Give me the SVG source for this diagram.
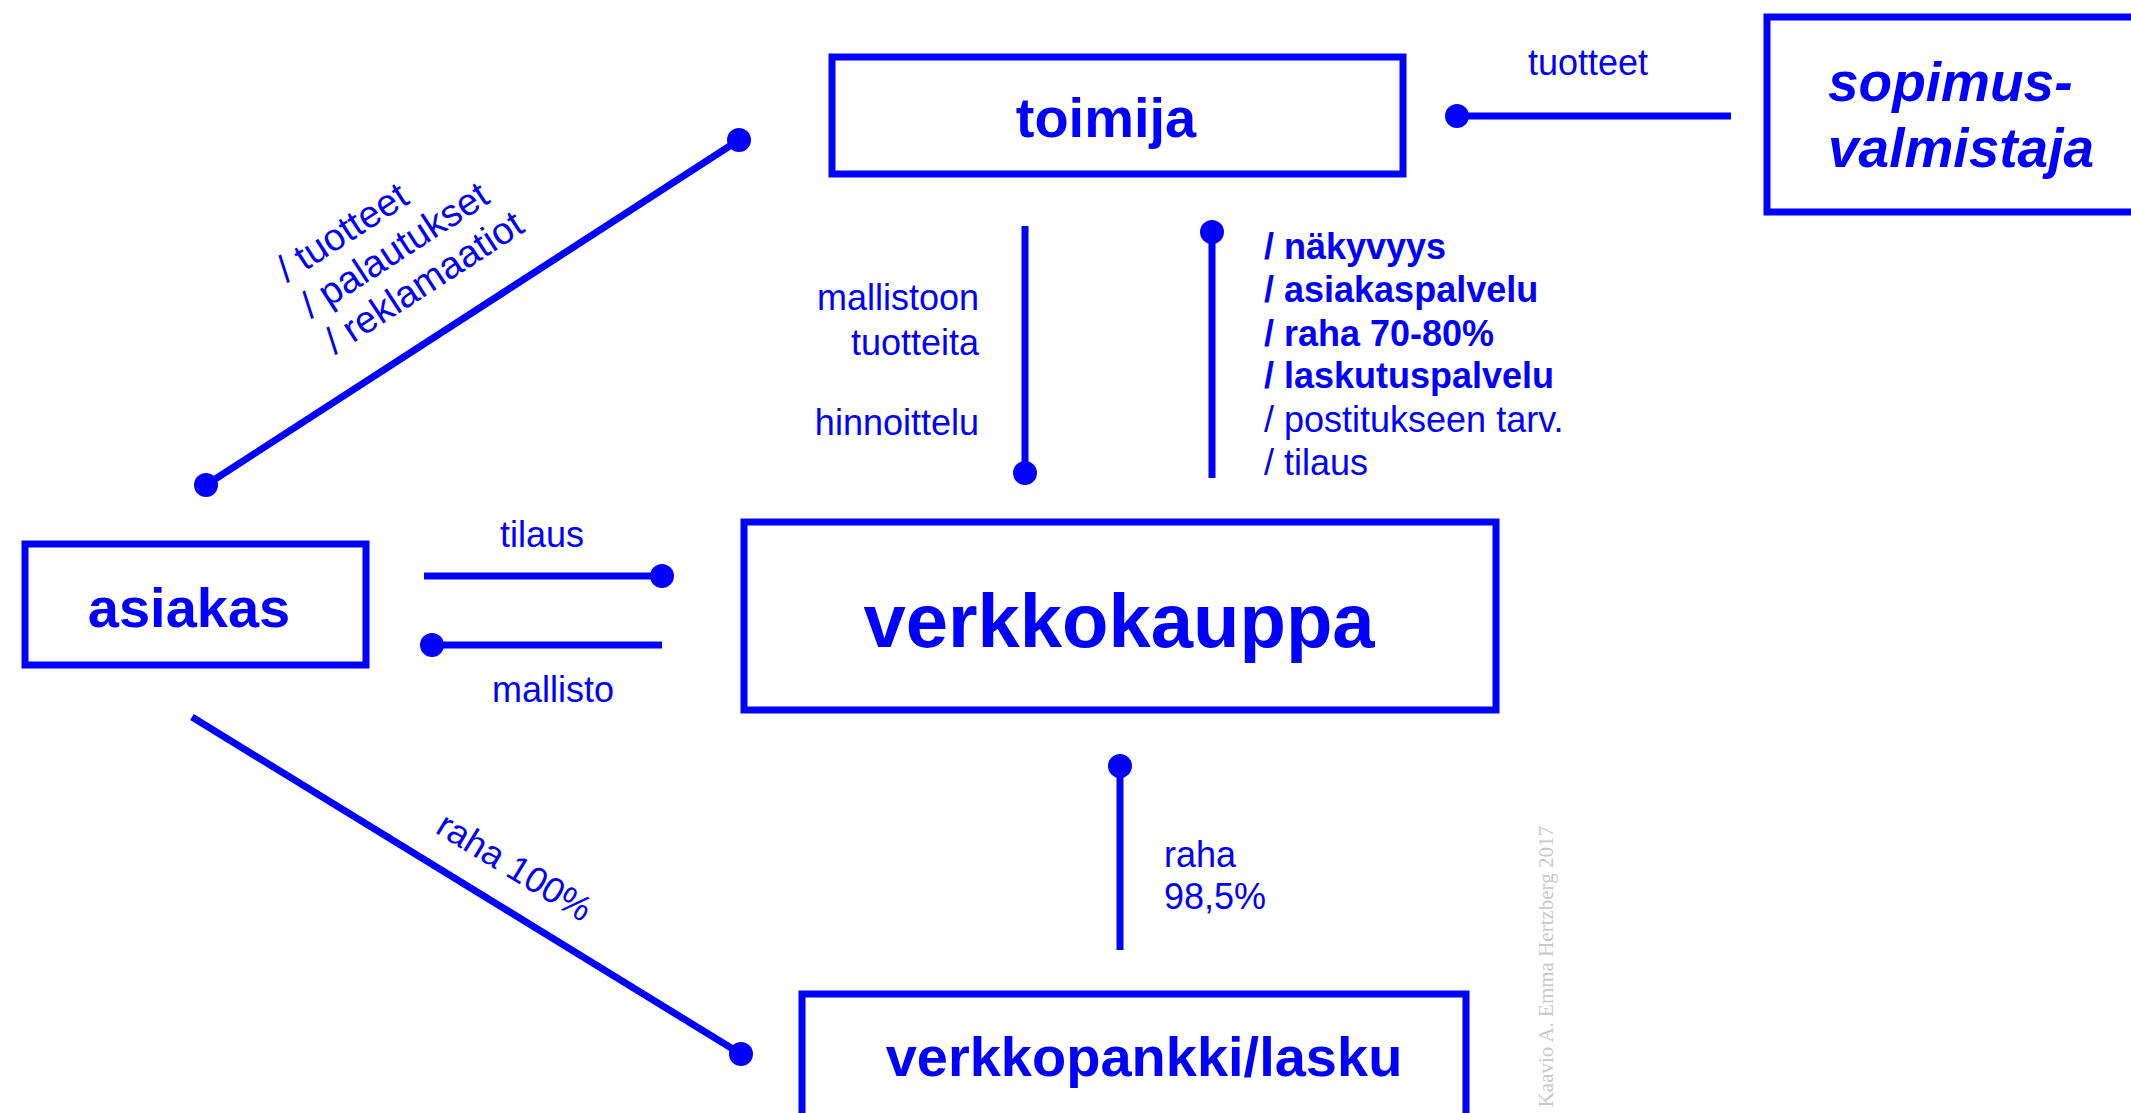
<svg xmlns="http://www.w3.org/2000/svg" width="2131" height="1113" viewBox="0 0 2131 1113">
<style>
.box{fill:none;stroke:#0000ff;stroke-width:7}
.node{font-family:"Liberation Sans",Arial,sans-serif;font-weight:bold;fill:#0000ff}
.lbl{font-family:"Liberation Sans",Arial,sans-serif;font-size:36px;fill:#0000ff}
.dg{font-size:38px}
.b{font-weight:bold}
.ln{stroke:#0000ff;stroke-width:7;fill:none}
.dot{fill:#0000ff}
.copy{font-family:"Liberation Serif","Times New Roman",serif;font-size:21px;fill:#c8c8c8}
</style>
<rect width="2131" height="1113" fill="#ffffff"/>
<g id="connectors">
  <line class="ln" x1="206" y1="485" x2="739" y2="140"/>
  <circle class="dot" cx="206" cy="485" r="12"/>
  <circle class="dot" cx="739" cy="140" r="12"/>
  <line class="ln" x1="1457" y1="116" x2="1731" y2="116"/>
  <circle class="dot" cx="1457" cy="116" r="12"/>
  <line class="ln" x1="1025" y1="226" x2="1025" y2="473"/>
  <circle class="dot" cx="1025" cy="473" r="12"/>
  <line class="ln" x1="1212" y1="232" x2="1212" y2="478"/>
  <circle class="dot" cx="1212" cy="232" r="12"/>
  <line class="ln" x1="424" y1="576" x2="662" y2="576"/>
  <circle class="dot" cx="662" cy="576" r="12"/>
  <line class="ln" x1="432" y1="645" x2="662" y2="645"/>
  <circle class="dot" cx="432" cy="645" r="12"/>
  <line class="ln" x1="1120" y1="766" x2="1120" y2="950"/>
  <circle class="dot" cx="1120" cy="766" r="12"/>
  <line class="ln" x1="192" y1="717" x2="741" y2="1054"/>
  <circle class="dot" cx="741" cy="1054" r="12"/>
  <g id="connector-labels">
    <text class="lbl" x="1588" y="75" text-anchor="middle">tuotteet</text>
    <text class="lbl dg" transform="translate(287,283) rotate(-33)">/ tuotteet</text>
    <text class="lbl dg" transform="translate(311,319) rotate(-33)">/ palautukset</text>
    <text class="lbl dg" transform="translate(335,355) rotate(-33)">/ reklamaatiot</text>
    <text class="lbl" x="979" y="310" text-anchor="end">mallistoon</text>
    <text class="lbl" x="979" y="355" text-anchor="end">tuotteita</text>
    <text class="lbl" x="979" y="435" text-anchor="end">hinnoittelu</text>
    <text class="lbl b" x="1264" y="259">/ näkyvyys</text>
    <text class="lbl b" x="1264" y="302">/ asiakaspalvelu</text>
    <text class="lbl b" x="1264" y="346">/ raha 70-80%</text>
    <text class="lbl b" x="1264" y="388">/ laskutuspalvelu</text>
    <text class="lbl" x="1264" y="432">/ postitukseen tarv.</text>
    <text class="lbl" x="1264" y="475">/ tilaus</text>
    <text class="lbl" x="542" y="547" text-anchor="middle">tilaus</text>
    <text class="lbl" x="553" y="702" text-anchor="middle">mallisto</text>
    <text class="lbl" x="1164" y="867">raha</text>
    <text class="lbl" x="1164" y="909">98,5%</text>
    <text class="lbl" transform="translate(434,832) rotate(31.4)">raha 100%</text>
  </g>
</g>
<g id="toimija">
  <rect class="box" x="832" y="57" width="571" height="117"/>
  <text class="node" x="1106" y="137" font-size="56" text-anchor="middle">toimija</text>
</g>
<g id="sopimusvalmistaja">
  <rect class="box" x="1767" y="17" width="420" height="195"/>
  <text class="node" x="1828" y="101" font-size="55" font-style="italic">sopimus-</text>
  <text class="node" x="1828" y="167" font-size="55" font-style="italic">valmistaja</text>
</g>
<g id="asiakas">
  <rect class="box" x="25" y="544" width="341" height="121"/>
  <text class="node" x="189" y="627" font-size="56" text-anchor="middle">asiakas</text>
</g>
<g id="verkkokauppa">
  <rect class="box" x="744" y="522" width="752" height="188"/>
  <text class="node" x="1119" y="647" font-size="76" text-anchor="middle">verkkokauppa</text>
</g>
<g id="verkkopankki">
  <rect class="box" x="802" y="994" width="664" height="200"/>
  <text class="node" x="1144" y="1076" font-size="56" text-anchor="middle">verkkopankki/lasku</text>
</g>
<text class="copy" transform="translate(1553,826) rotate(-90)" text-anchor="end">Kaavio A. Emma Hertzberg 2017</text>
</svg>
